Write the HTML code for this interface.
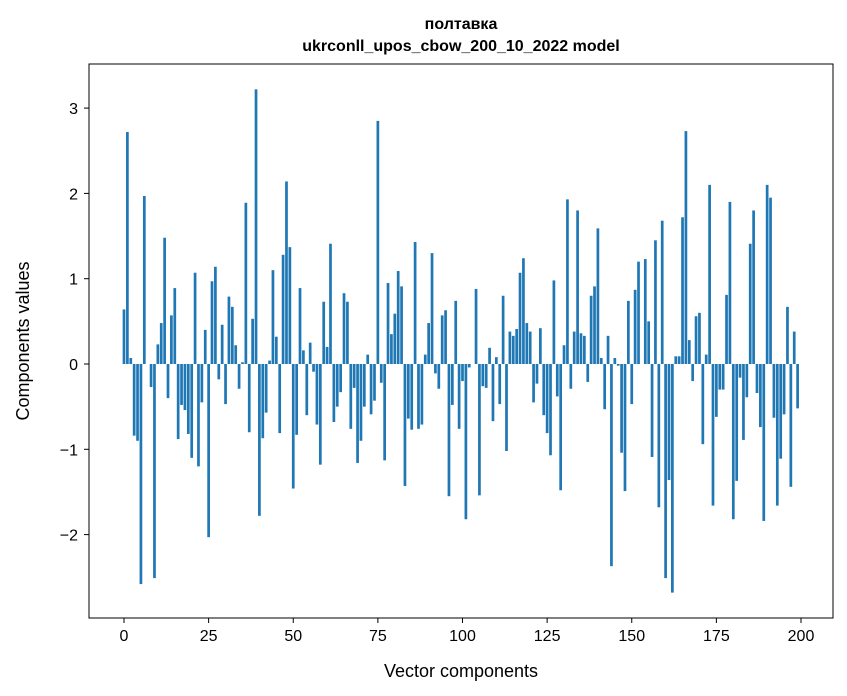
<!DOCTYPE html>
<html><head><meta charset="utf-8"><style>
html,body{margin:0;padding:0;background:#fff;}
svg{display:block;font-family:"Liberation Sans","DejaVu Sans",sans-serif;}
</style></head><body>
<svg id="chart" width="847" height="696" viewBox="0 0 847 696">
<rect x="0" y="0" width="847" height="696" fill="#fff"/>
<text x="461" y="29" text-anchor="middle" font-size="16" font-weight="bold">полтавка</text>
<text x="461" y="51" text-anchor="middle" font-size="16" font-weight="bold">ukrconll_upos_cbow_200_10_2022 model</text>
<g id="bars"></g>
<g id="xticks"></g>
<g id="yticks"></g>
<rect x="89" y="64" width="744" height="554" fill="none" stroke="#000" stroke-width="1"/>
<text x="461" y="677" text-anchor="middle" font-size="18">Vector components</text>
<text transform="translate(29,341) rotate(-90)" text-anchor="middle" font-size="18">Components values</text>
</svg>
<script>
const values = [0.64,2.72,0.07,-0.84,-0.90,-2.58,1.97,0.0,-0.27,-2.51,
0.23,0.48,1.48,-0.40,0.57,0.89,-0.88,-0.48,-0.54,-0.82,
-1.10,1.07,-1.20,-0.45,0.40,-2.03,0.97,1.14,-0.18,0.46,
-0.47,0.79,0.67,0.22,-0.29,0.02,1.89,-0.80,0.53,3.22,
-1.78,-0.87,-0.57,0.04,1.10,0.32,-0.81,1.28,2.14,1.37,
-1.46,-0.83,0.89,0.16,-0.60,0.25,-0.09,-0.71,-1.18,0.73,
0.20,1.41,-0.68,-0.50,-0.33,0.83,0.73,-0.76,-0.28,-1.16,
-0.90,-0.50,0.11,-0.59,-0.43,2.85,-0.22,-1.13,0.95,0.35,
0.59,1.09,0.91,-1.43,-0.64,-0.77,1.43,-0.76,-0.71,0.11,
0.48,1.30,-0.11,-0.29,0.57,0.63,-1.55,-0.48,0.74,-0.76,
-0.20,-1.82,-0.04,0.0,0.88,-1.54,-0.26,-0.28,0.19,-0.67,
0.08,-0.47,0.80,-1.02,0.38,0.33,0.41,1.07,1.24,0.48,
0.38,-0.45,-0.23,0.42,-0.60,-0.81,-1.07,0.98,-0.38,-1.48,
0.22,1.93,-0.29,0.38,1.80,0.36,0.33,-0.21,0.80,0.91,
1.59,0.07,-0.53,0.33,-2.37,0.07,-0.02,-1.04,-1.49,0.74,
-0.47,0.87,1.20,0.0,1.23,0.50,-1.09,1.45,-1.68,1.68,
-2.51,-1.36,-2.68,0.09,0.09,1.72,2.73,0.28,-0.20,0.56,
0.60,-0.94,0.11,2.10,-1.66,-0.62,-0.30,-0.30,0.81,1.90,
-1.82,-1.37,-0.16,-0.89,-0.39,1.41,1.80,-0.34,-0.74,-1.84,
2.10,1.95,-0.63,-1.66,-1.11,-0.59,0.67,-1.44,0.38,-0.52];
const xTicks = [0,25,50,75,100,125,150,175,200];
const yTicks = [-2,-1,0,1,2,3];
const yTickLabels = ["\u22122","\u22121","0","1","2","3"];

const NS = "http://www.w3.org/2000/svg";
function xScale(v){ return 124 + v * 3.385; }
function yScale(v){ return 364 - v * 85.3; }
const barsG = document.getElementById('bars');
values.forEach((v, i) => {
  const r = document.createElementNS(NS, 'rect');
  const w = 0.8 * 3.385;
  const y0 = yScale(0), y1 = yScale(v);
  r.setAttribute('x', xScale(i) - w / 2);
  r.setAttribute('width', w);
  r.setAttribute('y', Math.min(y0, y1));
  r.setAttribute('height', Math.abs(y1 - y0));
  r.setAttribute('fill', '#1f77b4');
  
  
  barsG.appendChild(r);
});
const xg = document.getElementById('xticks');
xTicks.forEach(t => {
  const x = xScale(t);
  const l = document.createElementNS(NS, 'line');
  l.setAttribute('x1', x); l.setAttribute('x2', x);
  l.setAttribute('y1', 618); l.setAttribute('y2', 623);
  l.setAttribute('stroke', '#000');
  
  
  xg.appendChild(l);
  const tx = document.createElementNS(NS, 'text');
  tx.setAttribute('x', x); tx.setAttribute('y', 641);
  tx.setAttribute('text-anchor', 'middle');
  tx.setAttribute('font-size', '16');
  tx.textContent = String(t);
  
  
  xg.appendChild(tx);
});
const yg = document.getElementById('yticks');
yTicks.forEach((t, i) => {
  const y = yScale(t);
  const l = document.createElementNS(NS, 'line');
  l.setAttribute('x1', 84); l.setAttribute('x2', 89);
  l.setAttribute('y1', y); l.setAttribute('y2', y);
  l.setAttribute('stroke', '#000');
  
  
  yg.appendChild(l);
  const tx = document.createElementNS(NS, 'text');
  tx.setAttribute('x', 78); tx.setAttribute('y', y + 6);
  tx.setAttribute('text-anchor', 'end');
  tx.setAttribute('font-size', '16');
  tx.textContent = yTickLabels[i];
  
  
  yg.appendChild(tx);
});
</script>
</body></html>
